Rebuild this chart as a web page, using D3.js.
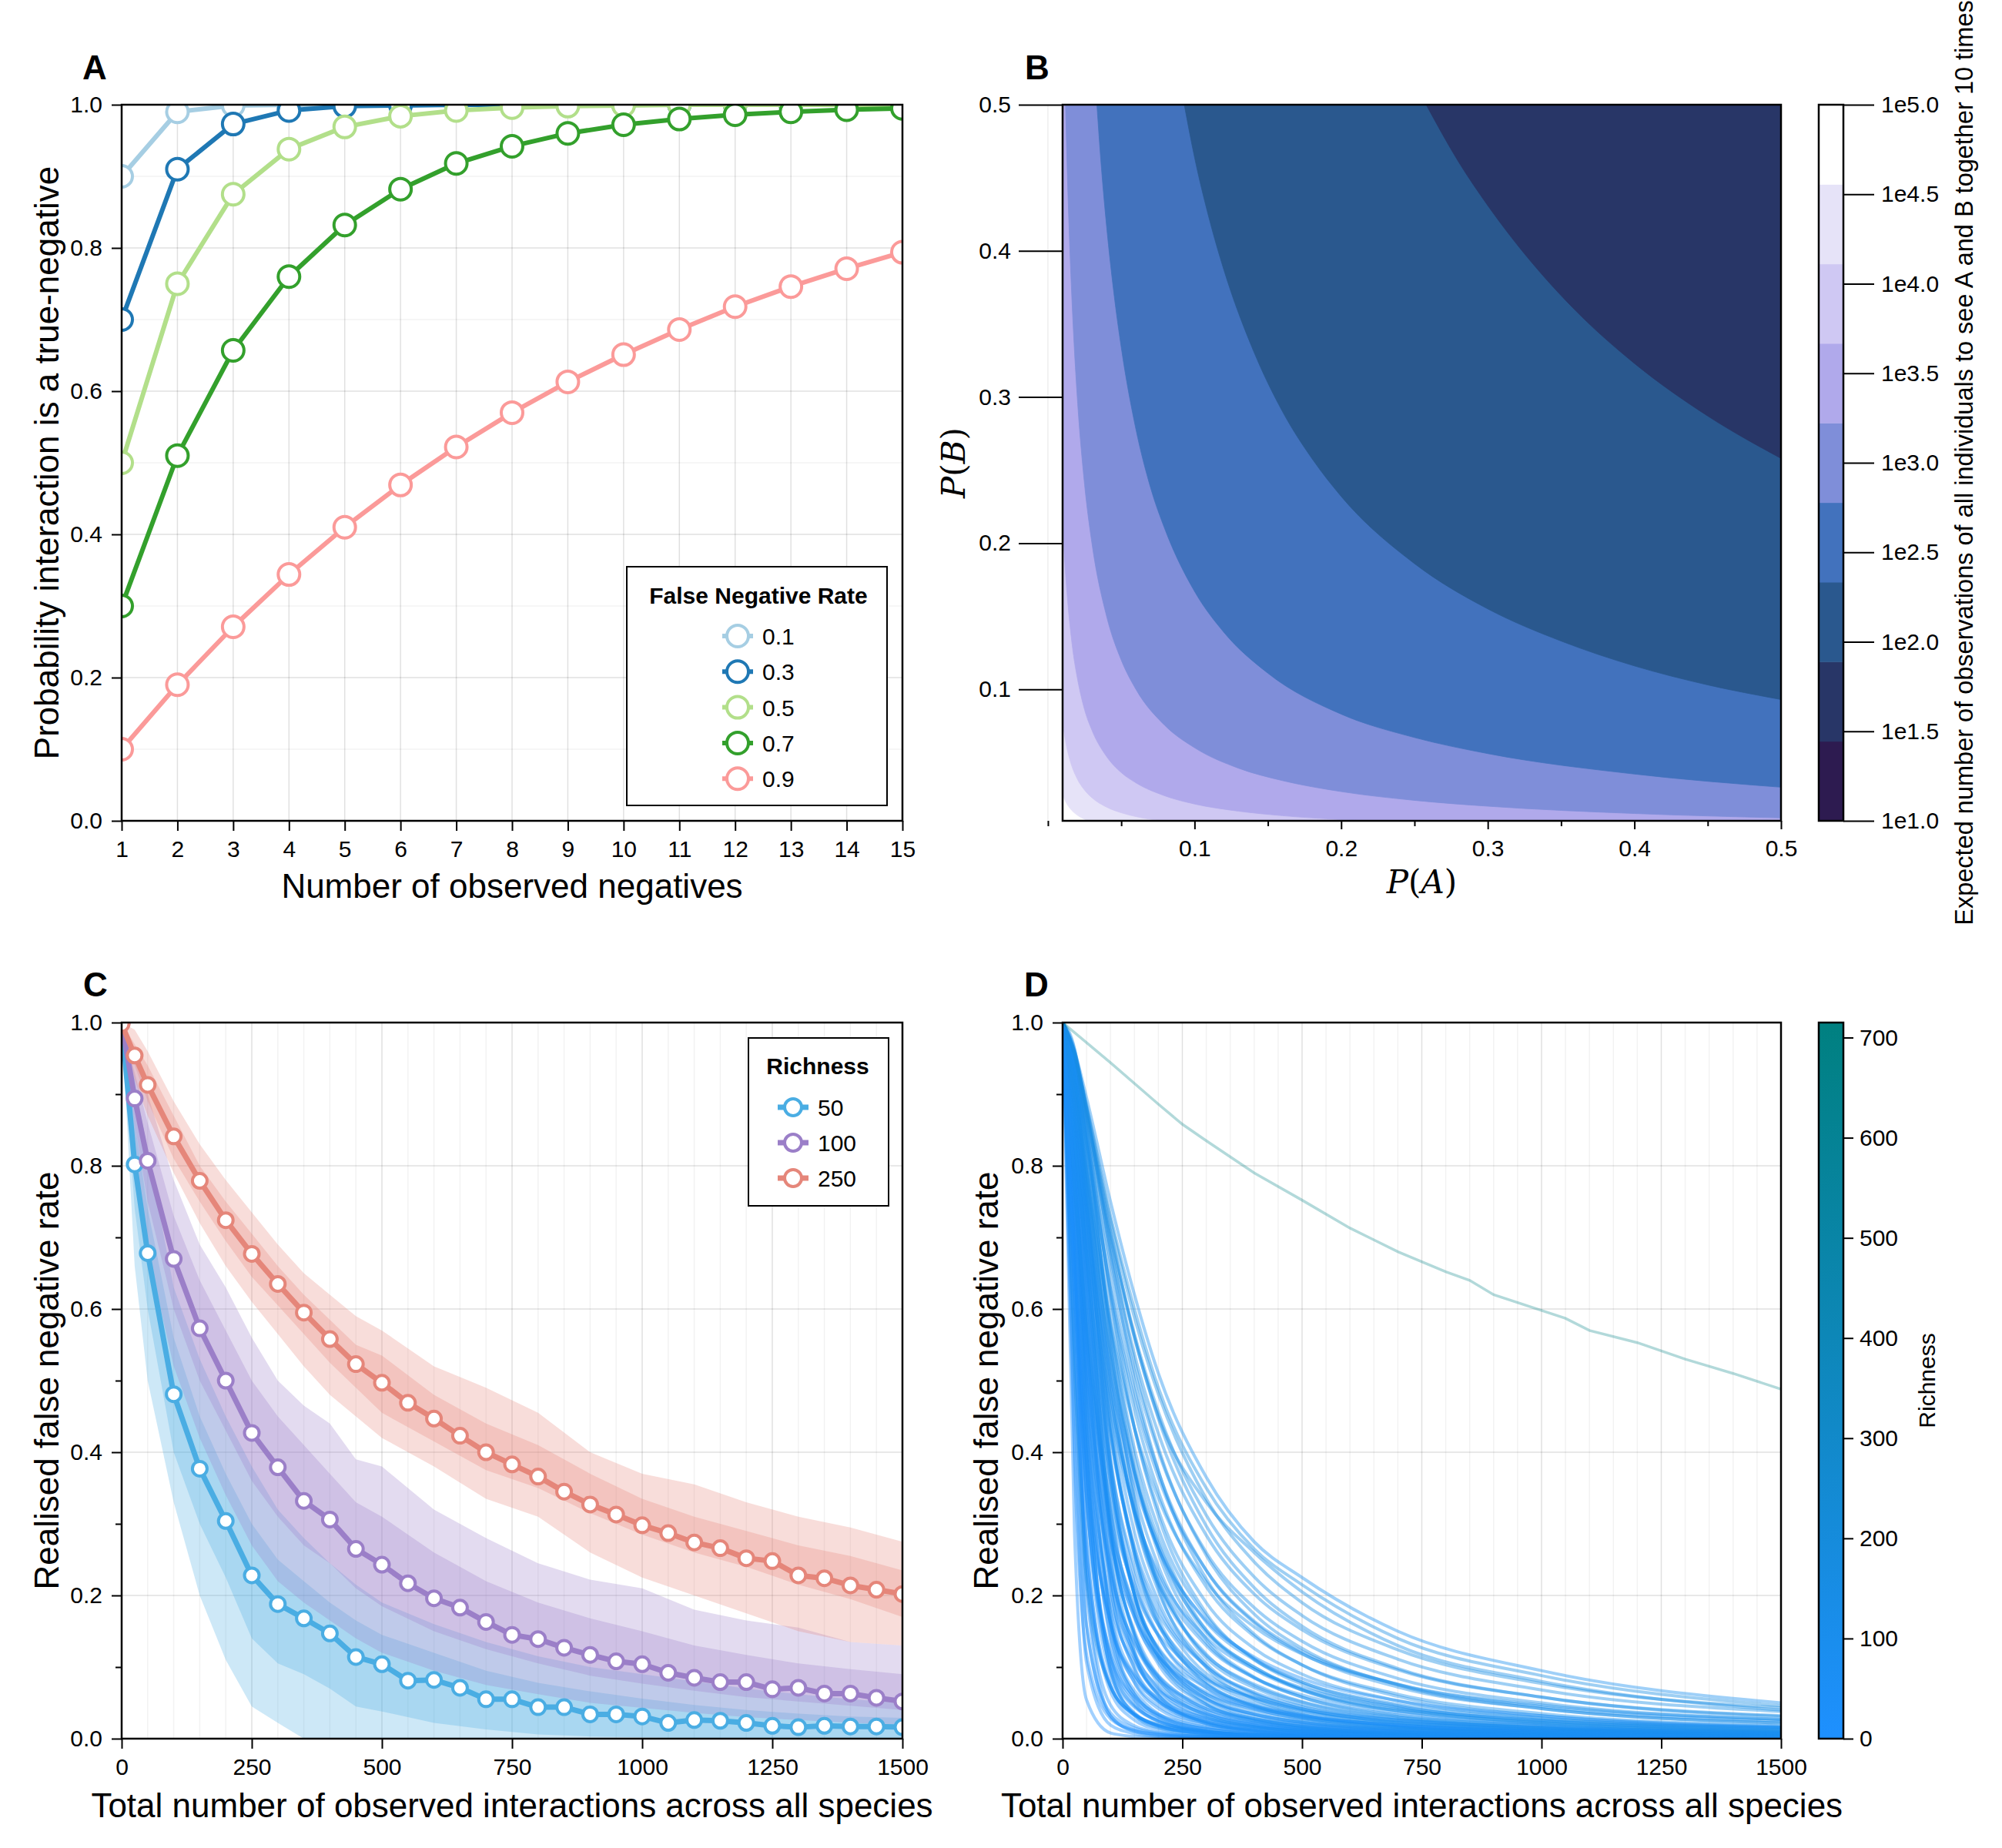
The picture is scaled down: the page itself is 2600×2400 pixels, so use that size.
<!DOCTYPE html>
<html><head><meta charset="utf-8">
<script src="https://cdn.jsdelivr.net/npm/d3@7"></script>
<style>body{margin:0;background:#fff;}</style>
</head><body>
<script>
// ================= DATA =================
// Panel A
const nNegatives = [1,2,3,4,5,6,7,8,9,10,11,12,13,14,15];
const fnrLabels = ["0.1","0.3","0.5","0.7","0.9"];
const fnrColors = ["#a6cee3","#1f78b4","#b2df8a","#33a02c","#fb9a99"];
const pTrue01 = [0.9,0.99,0.999,0.9999,1,1,1,1,1,1,1,1,1,1,1];
const pTrue03 = [0.7,0.91,0.973,0.992,0.998,0.999,1,1,1,1,1,1,1,1,1];
const pTrue05 = [0.5,0.75,0.875,0.938,0.969,0.984,0.992,0.996,0.998,0.999,1,1,1,1,1];
const pTrue07 = [0.3,0.51,0.657,0.760,0.832,0.882,0.918,0.942,0.960,0.972,0.980,0.986,0.990,0.993,0.995];
const pTrue09 = [0.1,0.19,0.271,0.344,0.410,0.469,0.522,0.570,0.613,0.651,0.686,0.718,0.746,0.771,0.794];
const xTicksA = [1,2,3,4,5,6,7,8,9,10,11,12,13,14,15];
const yTicksA = [0,0.2,0.4,0.6,0.8,1.0];

// Panel B
const bTicks = [0.1,0.2,0.3,0.4,0.5];
const bMinorTicks = [0.0,0.05,0.15,0.25,0.35,0.45];
const cbLevels = [1,1.444,1.889,2.333,2.778,3.222,3.667,4.111,4.556,5];
const cbColors = ["#2d1b50","#283667","#2a588e","#4272bd","#7f8ed9","#b0a9eb","#cfc8f3","#e6e3f8","#ffffff"];
const cbTickVals = [1,1.5,2,2.5,3,3.5,4,4.5,5];
// contour boundaries read as (P(A), P(B)) pairs, index = level number
const boundary2 = [[0.258,0.5],[0.28,0.461],[0.3,0.431],[0.33,0.392],[0.36,0.359],[0.4,0.323],[0.45,0.287],[0.5,0.258]];
const boundary3 = [[0.093,0.5],[0.1,0.464],[0.11,0.422],[0.12,0.387],[0.14,0.332],[0.16,0.29],[0.18,0.258],[0.2,0.232],[0.25,0.186],[0.3,0.155],[0.35,0.133],[0.4,0.116],[0.45,0.103],[0.5,0.093]];
const boundary4 = [[0.0334,0.5],[0.036,0.463],[0.04,0.417],[0.045,0.371],[0.05,0.334],[0.06,0.278],[0.07,0.238],[0.08,0.209],[0.1,0.167],[0.12,0.139],[0.15,0.111],[0.2,0.083],[0.25,0.067],[0.3,0.056],[0.4,0.042],[0.5,0.033]];
const boundary5 = [[0.012,0.5],[0.013,0.461],[0.015,0.4],[0.0175,0.343],[0.02,0.3],[0.025,0.24],[0.03,0.2],[0.04,0.15],[0.05,0.12],[0.06,0.1],[0.08,0.075],[0.1,0.06],[0.13,0.046],[0.16,0.0375],[0.2,0.03],[0.25,0.024],[0.3,0.02],[0.4,0.015],[0.5,0.012]];
const boundary6 = [[0.01,0.215],[0.0115,0.187],[0.013,0.166],[0.015,0.144],[0.0175,0.123],[0.02,0.108],[0.025,0.086],[0.03,0.072],[0.04,0.054],[0.05,0.043],[0.06,0.036],[0.08,0.027],[0.1,0.0215],[0.13,0.0166],[0.16,0.0135],[0.2,0.0108],[0.215,0.01]];
const boundary7 = [[0.01,0.0774],[0.012,0.0645],[0.015,0.0516],[0.02,0.0387],[0.025,0.031],[0.03,0.0258],[0.04,0.0194],[0.05,0.0155],[0.06,0.0129],[0.0774,0.01]];
const boundary8 = [[0.01,0.0278],[0.012,0.0232],[0.015,0.0186],[0.02,0.0139],[0.025,0.0111],[0.0278,0.01]];

// Panel C
const cX = [0,25,50,100,150,200,250,300,350,400,450,500,550,600,650,700,750,800,850,900,950,1000,1050,1100,1150,1200,1250,1300,1350,1400,1450,1500];
const richnessLabels = ["50","100","250"];
const richnessColors = ["#4aade3","#9b7fc8","#e5867a"];
const fnr50  = [1.0,0.802,0.678,0.481,0.377,0.304,0.228,0.188,0.168,0.147,0.114,0.104,0.081,0.082,0.071,0.055,0.055,0.044,0.044,0.034,0.034,0.031,0.022,0.026,0.025,0.022,0.018,0.016,0.018,0.017,0.017,0.016];
const fnr100 = [1.0,0.894,0.807,0.670,0.573,0.500,0.427,0.379,0.332,0.306,0.265,0.243,0.217,0.196,0.183,0.163,0.145,0.139,0.127,0.117,0.108,0.104,0.092,0.085,0.079,0.079,0.069,0.071,0.063,0.063,0.057,0.052];
const fnr250 = [0.998,0.954,0.913,0.841,0.779,0.724,0.677,0.635,0.595,0.558,0.523,0.497,0.469,0.447,0.423,0.400,0.383,0.366,0.345,0.327,0.313,0.298,0.287,0.274,0.266,0.252,0.248,0.228,0.224,0.214,0.208,0.202];
const bandX = [0,25,50,100,150,200,250,300,350,400,450,500,600,700,800,900,1000,1100,1200,1300,1400,1500];
const b50HiOut = [1,0.92,0.82,0.63,0.53,0.45,0.38,0.32,0.28,0.245,0.215,0.19,0.16,0.135,0.115,0.1,0.09,0.08,0.07,0.062,0.055,0.05];
const b50HiIn  = [1,0.86,0.74,0.56,0.45,0.37,0.3,0.25,0.22,0.19,0.165,0.145,0.12,0.095,0.078,0.066,0.056,0.047,0.04,0.035,0.031,0.029];
const b50LoIn  = [1,0.74,0.6,0.4,0.3,0.225,0.14,0.105,0.09,0.07,0.045,0.038,0.022,0.013,0.006,0.003,0.002,0.001,0,0,0,0];
const b50LoOut = [1,0.66,0.5,0.33,0.2,0.11,0.045,0.022,0,0,0,0,0,0,0,0,0,0,0,0,0,0];
const b100HiOut = [1,0.96,0.9,0.78,0.69,0.63,0.56,0.5,0.465,0.44,0.39,0.38,0.32,0.28,0.245,0.222,0.21,0.18,0.165,0.155,0.135,0.13];
const b100HiIn  = [1,0.93,0.86,0.73,0.64,0.57,0.5,0.45,0.41,0.37,0.33,0.31,0.26,0.22,0.19,0.168,0.15,0.13,0.117,0.105,0.097,0.09];
const b100LoIn  = [1,0.86,0.75,0.6,0.5,0.43,0.36,0.31,0.27,0.245,0.21,0.185,0.15,0.125,0.105,0.088,0.077,0.067,0.058,0.052,0.046,0.04];
const b100LoOut = [1,0.8,0.68,0.52,0.42,0.34,0.27,0.22,0.19,0.165,0.14,0.12,0.095,0.075,0.062,0.05,0.043,0.036,0.03,0.026,0.022,0.02];
const b250HiOut = [1,0.99,0.96,0.89,0.83,0.78,0.735,0.69,0.65,0.62,0.59,0.57,0.52,0.49,0.455,0.4,0.37,0.355,0.33,0.31,0.295,0.275];
const b250HiIn  = [1,0.97,0.94,0.87,0.8,0.75,0.705,0.66,0.62,0.585,0.55,0.535,0.48,0.44,0.41,0.37,0.335,0.31,0.29,0.27,0.255,0.235];
const b250LoIn  = [1,0.94,0.89,0.81,0.75,0.695,0.645,0.605,0.565,0.525,0.49,0.455,0.415,0.375,0.35,0.315,0.285,0.26,0.24,0.215,0.195,0.17];
const b250LoOut = [1,0.92,0.87,0.79,0.72,0.66,0.61,0.565,0.52,0.48,0.45,0.42,0.38,0.335,0.31,0.26,0.225,0.2,0.175,0.15,0.135,0.13];
const xTicksCD = [0,250,500,750,1000,1250,1500];
const yTicksCD = [0,0.2,0.4,0.6,0.8,1.0];
const yMinorCD = [0.1,0.3,0.5,0.7,0.9];

// Panel D (set 1 sampled at dX, set 2 sampled at dX2)
const dX = [0,25,50,100,150,200,300,400,500,700,1000,1500];
const dRichness = [12,14,16,18,20,22,25,28,32,36,40,45,50,55,60,66,72,78,85,92,100,108,116,125,135,145,155,30,50,75,110,15,60,90,120,40,10,
                   11,13,15,17,19,24,27,30,34,38,42,47,52,58,64,70,80,88,95,104,112,130,140,150,20,26,44,62,76,35,96,
                   160,150,140];
const dLines = [
[1,.418,.106,.019,.007,.003,.001,.001,0,0,0,0],
[1,.525,.159,.031,.011,.006,.002,.001,0,0,0,0],
[1,.612,.218,.047,.018,.009,.003,.002,.001,0,0,0],
[1,.68,.28,.066,.026,.013,.005,.002,.001,.001,0,0],
[1,.732,.341,.089,.036,.018,.007,.004,.002,.001,0,0],
[1,.772,.399,.115,.048,.025,.01,.005,.003,.001,.001,0],
[1,.803,.452,.144,.062,.033,.013,.007,.004,.002,.001,0],
[1,.826,.5,.174,.078,.042,.018,.009,.006,.003,.001,.001],
[1,.85,.552,.211,.099,.055,.023,.013,.008,.004,.002,.001],
[1,.868,.597,.25,.122,.07,.03,.017,.01,.005,.002,.001],
[1,.881,.634,.288,.147,.086,.039,.022,.014,.007,.003,.001],
[1,.892,.666,.325,.173,.104,.048,.027,.017,.009,.004,.002],
[1,.9,.692,.36,.2,.123,.059,.034,.022,.011,.006,.003],
[1,.906,.714,.393,.227,.144,.071,.042,.027,.014,.007,.003],
[1,.913,.737,.429,.258,.167,.085,.051,.034,.018,.009,.004],
[1,.918,.756,.462,.288,.192,.101,.062,.042,.023,.012,.006],
[1,.921,.77,.491,.317,.217,.118,.074,.051,.028,.015,.007],
[1,.928,.789,.522,.346,.241,.134,.085,.058,.033,.018,.009],
[1,.932,.804,.549,.375,.266,.151,.097,.068,.039,.021,.011],
[1,.937,.818,.578,.405,.293,.171,.112,.079,.046,.025,.013],
[1,.941,.832,.603,.433,.319,.19,.126,.09,.053,.029,.015],
[1,.943,.84,.625,.459,.345,.212,.143,.103,.062,.035,.018],
[1,.945,.849,.646,.486,.373,.235,.162,.119,.072,.042,.022],
[1,.947,.857,.666,.513,.401,.26,.183,.136,.084,.05,.027],
[1,.949,.864,.685,.537,.426,.284,.202,.152,.096,.058,.032],
[1,.952,.873,.706,.565,.456,.312,.226,.172,.111,.068,.038],
[1,.954,.881,.724,.588,.481,.335,.247,.19,.124,.077,.043],
[1,.7,.401,.161,.085,.052,.026,.016,.011,.006,.003,.002],
[1,.802,.572,.306,.187,.127,.071,.046,.032,.019,.011,.006],
[1,.872,.707,.461,.317,.232,.141,.097,.071,.044,.026,.015],
[1,.912,.79,.58,.434,.336,.219,.156,.118,.076,.047,.027],
[1,.677,.208,.032,.01,.004,.001,0,0,0,0,0],
[1,.936,.706,.283,.121,.061,.022,.011,.006,.003,.001,0],
[1,.963,.85,.552,.335,.211,.099,.055,.034,.017,.008,.003],
[1,.962,.878,.675,.5,.374,.223,.146,.103,.059,.032,.016],
[1,.765,.5,.235,.134,.087,.045,.028,.02,.011,.006,.003],
[1,.285,.054,.008,.003,.001,0,0,0,0,0,0],
[1,.38,.118,.028,.012,.006,.003,.001,.001,0,0,0],
[1,.477,.156,.036,.015,.008,.003,.002,.001,0,0,0],
[1,.556,.239,.073,.034,.019,.009,.005,.003,.002,.001,0],
[1,.633,.273,.075,.032,.017,.007,.004,.002,.001,0,0],
[1,.675,.342,.115,.054,.031,.014,.008,.005,.003,.001,.001],
[1,.756,.436,.162,.079,.046,.021,.012,.008,.004,.002,.001],
[1,.836,.474,.138,.055,.027,.01,.005,.003,.001,0,0],
[1,.801,.518,.224,.118,.072,.034,.02,.013,.007,.004,.002],
[1,.87,.575,.215,.097,.053,.021,.011,.007,.003,.001,0],
[1,.837,.596,.297,.169,.108,.055,.034,.023,.013,.007,.003],
[1,.898,.656,.293,.145,.083,.036,.019,.012,.006,.003,.001],
[1,.864,.654,.36,.217,.143,.076,.047,.033,.018,.01,.005],
[1,.916,.718,.373,.202,.122,.056,.031,.02,.01,.005,.002],
[1,.885,.703,.422,.268,.183,.101,.065,.045,.026,.014,.007],
[1,.925,.756,.436,.256,.162,.079,.046,.03,.016,.008,.003],
[1,.9,.742,.479,.32,.227,.13,.085,.061,.036,.02,.01],
[1,.937,.794,.5,.312,.206,.105,.063,.042,.022,.011,.005],
[1,.912,.774,.531,.371,.272,.163,.11,.079,.048,.028,.015],
[1,.948,.83,.566,.376,.259,.139,.086,.058,.031,.016,.008],
[1,.955,.854,.619,.434,.311,.175,.111,.076,.043,.022,.011],
[1,.935,.832,.628,.473,.365,.235,.164,.122,.076,.045,.025],
[1,.959,.878,.69,.527,.406,.256,.174,.126,.075,.042,.022],
[1,.957,.881,.71,.561,.447,.297,.211,.157,.098,.058,.031],
[1,.518,.224,.072,.034,.02,.01,.006,.004,.002,.001,0],
[1,.671,.386,.162,.088,.056,.029,.018,.012,.007,.004,.002],
[1,.767,.53,.278,.17,.116,.065,.043,.031,.019,.011,.006],
[1,.905,.644,.255,.115,.061,.024,.012,.007,.003,.001,0],
[1,.939,.758,.388,.2,.114,.048,.025,.015,.007,.003,.001],
[1,.838,.427,.097,.033,.015,.005,.002,.001,0,0,0],
[1,.892,.745,.507,.359,.267,.165,.114,.084,.053,.032,.017],
[1,.96,.895,.75,.62,.51,.365,.275,.225,.15,.095,.05],
[1,.958,.885,.73,.6,.49,.35,.265,.215,.14,.088,.046],
[1,.955,.87,.70,.56,.45,.33,.26,.205,.13,.08,.04]
];
const dX2 = [0,50,100,150,250,400,700,1500];
const dRichness2 = [18,22,26,30,34,38,42,46,50,54,58,62,66,70,74,80,86,92,98,104,110,28,24,44,64];
const dLines2 = [
[1,.255,.074,.033,.012,.004,.001,0],
[1,.337,.12,.059,.023,.01,.003,.001],
[1,.374,.108,.046,.015,.005,.001,0],
[1,.436,.192,.107,.048,.022,.009,.002],
[1,.469,.181,.089,.034,.014,.005,.001],
[1,.5,.159,.067,.021,.007,.002,0],
[1,.526,.242,.133,.058,.026,.01,.002],
[1,.559,.228,.112,.041,.016,.005,.001],
[1,.568,.295,.177,.085,.041,.017,.005],
[1,.613,.284,.15,.06,.024,.008,.002],
[1,.626,.317,.18,.079,.034,.013,.003],
[1,.677,.299,.143,.049,.017,.005,.001],
[1,.672,.355,.202,.088,.038,.013,.003],
[1,.671,.386,.239,.117,.056,.022,.006],
[1,.738,.38,.2,.075,.028,.008,.002],
[1,.722,.428,.265,.126,.058,.022,.006],
[1,.769,.446,.26,.11,.045,.015,.003],
[1,.758,.482,.314,.158,.076,.03,.008],
[1,.798,.514,.329,.157,.071,.026,.006],
[1,.792,.54,.371,.198,.1,.041,.012],
[1,.824,.574,.394,.206,.1,.039,.01],
[1,.389,.095,.035,.01,.003,.001,0],
[1,.34,.101,.044,.015,.005,.002,0],
[1,.564,.166,.062,.017,.005,.001,0],
[1,.58,.328,.21,.11,.057,.026,.008]
];
const tealX = [0,100,200,250,300,400,500,600,700,800,850,900,1000,1050,1100,1200,1300,1400,1500];
const tealY = [1,.944,.886,.858,.835,.79,.752,.713,.68,.652,.64,.62,.598,.587,.57,.553,.53,.51,.488];
const tealRichness = 700;
const richTicks = [0,100,200,300,400,500,600,700];

// ================= DRAWING =================
const FONT = '"Liberation Sans", Arial, Helvetica, sans-serif';
const TFS = 30, LFS = 44;
const svg = d3.select("body").append("svg").attr("width",2600).attr("height",2400)
  .attr("font-family",FONT).style("background","#fff");
svg.append("rect").attr("width",2600).attr("height",2400).attr("fill","#fff");

const RA = {x0:158,x1:1172,y0:136,y1:1066};
const RB = {x0:1380,x1:2313,y0:136,y1:1066};
const RC = {x0:158,x1:1172,y0:1328,y1:2258};
const RD = {x0:1380,x1:2313,y0:1328,y1:2258};

function addClip(id,r){
  svg.append("clipPath").attr("id",id).append("rect")
    .attr("x",r.x0).attr("y",r.y0).attr("width",r.x1-r.x0).attr("height",r.y1-r.y0);
}
function styleAxis(g){
  g.select(".domain").remove();
  g.attr("font-family",FONT).attr("font-size",TFS);
  g.selectAll(".tick line").attr("stroke","#000").attr("stroke-width",2);
  g.selectAll(".tick text").attr("fill","#000");
  return g;
}
function xAxis(r, sc, vals, fmt, len, pad){
  return styleAxis(svg.append("g").attr("transform",`translate(0,${r.y1})`)
    .call(d3.axisBottom(sc).tickValues(vals).tickFormat(fmt).tickSize(len).tickPadding(pad)));
}
function yAxis(r, sc, vals, fmt, len, pad){
  return styleAxis(svg.append("g").attr("transform",`translate(${r.x0},0)`)
    .call(d3.axisLeft(sc).tickValues(vals).tickFormat(fmt).tickSize(len).tickPadding(pad)));
}
function spine(r){
  svg.append("rect").attr("x",r.x0).attr("y",r.y0).attr("width",r.x1-r.x0).attr("height",r.y1-r.y0)
    .attr("fill","none").attr("stroke","#000").attr("stroke-width",2.5);
}
function vgrid(r, sc, vals, col, w){
  svg.append("g").selectAll("line").data(vals).join("line")
    .attr("x1",d=>sc(d)).attr("x2",d=>sc(d)).attr("y1",r.y0).attr("y2",r.y1)
    .attr("stroke",col).attr("stroke-width",w);
}
function hgrid(r, sc, vals, col, w){
  svg.append("g").selectAll("line").data(vals).join("line")
    .attr("y1",d=>sc(d)).attr("y2",d=>sc(d)).attr("x1",r.x0).attr("x2",r.x1)
    .attr("stroke",col).attr("stroke-width",w);
}
function letter(t,x,y){
  svg.append("text").attr("x",x).attr("y",y).attr("font-size",LFS).attr("font-weight","bold").text(t);
}
function xLabel(t,cx,y){
  svg.append("text").attr("x",cx).attr("y",y).attr("text-anchor","middle").attr("font-size",LFS).text(t);
}
function yLabel(t,x,cy){
  svg.append("text").attr("transform",`translate(${x},${cy}) rotate(-90)`).attr("text-anchor","middle").attr("font-size",LFS).text(t);
}
const fmt1 = d3.format(".1f");

// ---------- Panel A ----------
{
  const x = d3.scaleLinear().domain([1,15]).range([RA.x0,RA.x1]);
  const y = d3.scaleLinear().domain([0,1]).range([RA.y1,RA.y0]);
  addClip("clipA",RA);
  vgrid(RA,x,xTicksA,"rgba(0,0,0,0.12)",1.5);
  hgrid(RA,y,[0.1,0.3,0.5,0.7,0.9],"rgba(0,0,0,0.05)",1.5);
  hgrid(RA,y,yTicksA,"rgba(0,0,0,0.12)",1.5);
  const series = [pTrue01,pTrue03,pTrue05,pTrue07,pTrue09];
  const g = svg.append("g").attr("clip-path","url(#clipA)");
  const line = d3.line().x((d,i)=>x(nNegatives[i])).y(d=>y(d));
  series.forEach((s,k)=>{
    g.append("path").attr("d",line(s)).attr("fill","none").attr("stroke",fnrColors[k]).attr("stroke-width",6).attr("stroke-linejoin","round");
    g.append("g").selectAll("circle").data(s).join("circle")
      .attr("cx",(d,i)=>x(nNegatives[i])).attr("cy",d=>y(d)).attr("r",14)
      .attr("fill","#fff").attr("stroke",fnrColors[k]).attr("stroke-width",4);
  });
  spine(RA);
  xAxis(RA,x,xTicksA,d3.format("d"),13,13);
  yAxis(RA,y,yTicksA,fmt1,13,12);
  letter("A",107,103);
  xLabel("Number of observed negatives",(RA.x0+RA.x1)/2,1166);
  yLabel("Probability interaction is a true-negative",76,(RA.y0+RA.y1)/2);
  const L = svg.append("g");
  L.append("rect").attr("x",814).attr("y",736).attr("width",338).attr("height",310).attr("fill","#fff").attr("stroke","#000").attr("stroke-width",2);
  L.append("text").attr("x",985).attr("y",784).attr("text-anchor","middle").attr("font-size",TFS).attr("font-weight","bold").text("False Negative Rate");
  fnrLabels.forEach((lab,k)=>{
    const yy = 826 + k*46.3;
    L.append("line").attr("x1",938).attr("x2",978).attr("y1",yy).attr("y2",yy).attr("stroke",fnrColors[k]).attr("stroke-width",6);
    L.append("circle").attr("cx",958).attr("cy",yy).attr("r",14).attr("fill","#fff").attr("stroke",fnrColors[k]).attr("stroke-width",4);
    L.append("text").attr("x",990).attr("y",yy+11).attr("font-size",TFS).text(lab);
  });
}

// ---------- Panel B ----------
{
  const x = d3.scaleLinear().domain([0.01,0.5]).range([RB.x0,RB.x1]);
  const y = d3.scaleLinear().domain([0.01,0.5]).range([RB.y1,RB.y0]);
  addClip("clipB",RB);
  svg.append("line").attr("x1",x(0)).attr("x2",x(0)).attr("y1",RB.y0).attr("y2",RB.y1).attr("stroke","rgba(0,0,0,0.07)").attr("stroke-width",1.5);
  const g = svg.append("g").attr("clip-path","url(#clipB)");
  g.append("rect").attr("x",RB.x0).attr("y",RB.y0).attr("width",RB.x1-RB.x0).attr("height",RB.y1-RB.y0).attr("fill",cbColors[8]);
  const curve = d3.line().x(d=>x(d[0])).y(d=>y(d[1])).curve(d3.curveMonotoneX);
  const bounds = [null,null,boundary2,boundary3,boundary4,boundary5,boundary6,boundary7,boundary8];
  for(let k=8;k>=2;k--){
    const pts = bounds[k];
    const first = pts[0], last = pts[pts.length-1];
    const corners = [];
    if(last[1] <= 0.0101) corners.push([0.5,0.01]);
    corners.push([0.5,0.5]);
    if(first[0] <= 0.0101) corners.push([0.01,0.5]);
    const d = curve(pts) + corners.map(c=>`L${x(c[0])},${y(c[1])}`).join("") + "Z";
    g.append("path").attr("d",d).attr("fill",cbColors[k-1]).attr("stroke",cbColors[k-1]).attr("stroke-width",0.8);
  }
  spine(RB);
  xAxis(RB,x,bTicks,fmt1,11,14);
  styleAxis(svg.append("g").attr("transform",`translate(0,${RB.y1})`)
    .call(d3.axisBottom(x).tickValues(bMinorTicks).tickFormat("").tickSize(7)));
  yAxis(RB,y,bTicks,fmt1,57,10);
  letter("B",1331,103);
  const ml = svg.append("text").attr("x",(RB.x0+RB.x1)/2).attr("y",1160).attr("text-anchor","middle")
    .attr("font-family",'"DejaVu Serif","Liberation Serif",serif').attr("font-size",42);
  ml.append("tspan").attr("font-style","italic").text("P");
  ml.append("tspan").text("(");
  ml.append("tspan").attr("font-style","italic").text("A");
  ml.append("tspan").text(")");
  const mly = svg.append("text").attr("transform",`translate(1253,${(RB.y0+RB.y1)/2}) rotate(-90)`).attr("text-anchor","middle")
    .attr("font-family",'"DejaVu Serif","Liberation Serif",serif').attr("font-size",42);
  mly.append("tspan").attr("font-style","italic").text("P");
  mly.append("tspan").text("(");
  mly.append("tspan").attr("font-style","italic").text("B");
  mly.append("tspan").text(")");
  const CB = {x0:2362,x1:2394,y0:136,y1:1066};
  const cy = d3.scaleLinear().domain([1,5]).range([CB.y1,CB.y0]);
  const bandH = (CB.y1-CB.y0)/cbColors.length;
  svg.append("g").selectAll("rect").data(cbColors).join("rect")
    .attr("x",CB.x0).attr("width",CB.x1-CB.x0)
    .attr("y",(d,i)=>CB.y1-(i+1)*bandH).attr("height",bandH+0.5).attr("fill",d=>d);
  svg.append("rect").attr("x",CB.x0).attr("y",CB.y0).attr("width",CB.x1-CB.x0).attr("height",CB.y1-CB.y0).attr("fill","none").attr("stroke","#000").attr("stroke-width",2.5);
  styleAxis(svg.append("g").attr("transform",`translate(${CB.x1},0)`)
    .call(d3.axisRight(cy).tickValues(cbTickVals).tickFormat(d=>"1e"+d.toFixed(1)).tickSize(40).tickPadding(9)));
  svg.append("text").attr("transform",`translate(2562,${(CB.y0+CB.y1)/2}) rotate(-90)`).attr("text-anchor","middle").attr("font-size",32.5)
    .text("Expected number of observations of all individuals to see A and B together 10 times");
}

// ---------- Panel C ----------
{
  const x = d3.scaleLinear().domain([0,1500]).range([RC.x0,RC.x1]);
  const y = d3.scaleLinear().domain([0,1]).range([RC.y1,RC.y0]);
  addClip("clipC",RC);
  vgrid(RC,x,d3.range(50,1500,50).filter(v=>v%250!==0),"rgba(0,0,0,0.05)",1.5);
  vgrid(RC,x,xTicksCD,"rgba(0,0,0,0.12)",1.5);
  hgrid(RC,y,yTicksCD,"rgba(0,0,0,0.12)",1.5);
  const g = svg.append("g").attr("clip-path","url(#clipC)");
  const area = (lo,hi)=>d3.area().x((d,i)=>x(bandX[i])).y0((d,i)=>y(lo[i])).y1((d,i)=>y(hi[i]))(lo);
  const bands = [[b50LoOut,b50HiOut,b50LoIn,b50HiIn],[b100LoOut,b100HiOut,b100LoIn,b100HiIn],[b250LoOut,b250HiOut,b250LoIn,b250HiIn]];
  bands.forEach((b,k)=>{
    g.append("path").attr("d",area(b[0],b[1])).attr("fill",richnessColors[k]).attr("opacity",0.28);
    g.append("path").attr("d",area(b[2],b[3])).attr("fill",richnessColors[k]).attr("opacity",0.28);
  });
  const series = [fnr50,fnr100,fnr250];
  const line = d3.line().x((d,i)=>x(cX[i])).y(d=>y(d));
  series.forEach((s,k)=>{
    g.append("path").attr("d",line(s)).attr("fill","none").attr("stroke",richnessColors[k]).attr("stroke-width",7).attr("stroke-linejoin","round");
    g.append("g").selectAll("circle").data(s).join("circle")
      .attr("cx",(d,i)=>x(cX[i])).attr("cy",d=>y(d)).attr("r",9.5)
      .attr("fill","#fff").attr("stroke",richnessColors[k]).attr("stroke-width",4);
  });
  spine(RC);
  xAxis(RC,x,xTicksCD,d3.format("d"),13,13);
  yAxis(RC,y,yTicksCD,fmt1,13,12);
  styleAxis(svg.append("g").attr("transform",`translate(${RC.x0},0)`).call(d3.axisLeft(y).tickValues(yMinorCD).tickFormat("").tickSize(8)));
  letter("C",108,1294);
  xLabel("Total number of observed interactions across all species",(RC.x0+RC.x1)/2,2360);
  yLabel("Realised false negative rate",76,(RC.y0+RC.y1)/2);
  const L = svg.append("g");
  L.append("rect").attr("x",972).attr("y",1348).attr("width",182).attr("height",218).attr("fill","#fff").attr("stroke","#000").attr("stroke-width",2);
  L.append("text").attr("x",1062).attr("y",1395).attr("text-anchor","middle").attr("font-size",TFS).attr("font-weight","bold").text("Richness");
  richnessLabels.forEach((lab,k)=>{
    const yy = 1438 + k*46;
    L.append("line").attr("x1",1010).attr("x2",1050).attr("y1",yy).attr("y2",yy).attr("stroke",richnessColors[k]).attr("stroke-width",7);
    L.append("circle").attr("cx",1030).attr("cy",yy).attr("r",11).attr("fill","#fff").attr("stroke",richnessColors[k]).attr("stroke-width",4);
    L.append("text").attr("x",1062).attr("y",yy+11).attr("font-size",TFS).text(lab);
  });
}

// ---------- Panel D ----------
{
  const x = d3.scaleLinear().domain([0,1500]).range([RD.x0,RD.x1]);
  const y = d3.scaleLinear().domain([0,1]).range([RD.y1,RD.y0]);
  const col = d3.scaleLinear().domain([0,715]).range(["#1e90ff","#008080"]).interpolate(d3.interpolateRgb);
  addClip("clipD",RD);
  vgrid(RD,x,d3.range(50,1500,50).filter(v=>v%250!==0),"rgba(0,0,0,0.05)",1.5);
  vgrid(RD,x,xTicksCD,"rgba(0,0,0,0.12)",1.5);
  hgrid(RD,y,yTicksCD,"rgba(0,0,0,0.12)",1.5);
  const g = svg.append("g").attr("clip-path","url(#clipD)");
  const line = d3.line().x((d,i)=>x(dX[i])).y(d=>y(d)).curve(d3.curveMonotoneX);
  const line2 = d3.line().x((d,i)=>x(dX2[i])).y(d=>y(d)).curve(d3.curveMonotoneX);
  dLines.forEach((s,k)=>{
    g.append("path").attr("d",line(s)).attr("fill","none").attr("stroke",col(dRichness[k])).attr("stroke-width",4).attr("stroke-opacity",0.42);
  });
  dLines2.forEach((s,k)=>{
    g.append("path").attr("d",line2(s)).attr("fill","none").attr("stroke",col(dRichness2[k])).attr("stroke-width",4).attr("stroke-opacity",0.42);
  });
  const tl = d3.line().x((d,i)=>x(tealX[i])).y(d=>y(d));
  g.append("path").attr("d",tl(tealY)).attr("fill","none").attr("stroke",col(tealRichness)).attr("stroke-width",3.5).attr("stroke-opacity",0.3);
  spine(RD);
  xAxis(RD,x,xTicksCD,d3.format("d"),13,13);
  yAxis(RD,y,yTicksCD,fmt1,13,12);
  styleAxis(svg.append("g").attr("transform",`translate(${RD.x0},0)`).call(d3.axisLeft(y).tickValues(yMinorCD).tickFormat("").tickSize(8)));
  letter("D",1330,1294);
  xLabel("Total number of observed interactions across all species",(RD.x0+RD.x1)/2,2360);
  yLabel("Realised false negative rate",1296,(RD.y0+RD.y1)/2);
  const CB = {x0:2362,x1:2394,y0:1328,y1:2258};
  const cy = d3.scaleLinear().domain([0,715]).range([CB.y1,CB.y0]);
  const defs = svg.append("defs");
  const grad = defs.append("linearGradient").attr("id","richGrad").attr("x1",0).attr("x2",0).attr("y1",1).attr("y2",0);
  grad.append("stop").attr("offset","0%").attr("stop-color",col(0));
  grad.append("stop").attr("offset","100%").attr("stop-color",col(715));
  svg.append("rect").attr("x",CB.x0).attr("y",CB.y0).attr("width",CB.x1-CB.x0).attr("height",CB.y1-CB.y0).attr("fill","url(#richGrad)").attr("stroke","#000").attr("stroke-width",2.5);
  styleAxis(svg.append("g").attr("transform",`translate(${CB.x1},0)`)
    .call(d3.axisRight(cy).tickValues(richTicks).tickFormat(d3.format("d")).tickSize(13).tickPadding(8)));
  svg.append("text").attr("transform",`translate(2513,${(CB.y0+CB.y1)/2}) rotate(-90)`).attr("text-anchor","middle").attr("font-size",TFS).text("Richness");
}
</script>
</body></html>
